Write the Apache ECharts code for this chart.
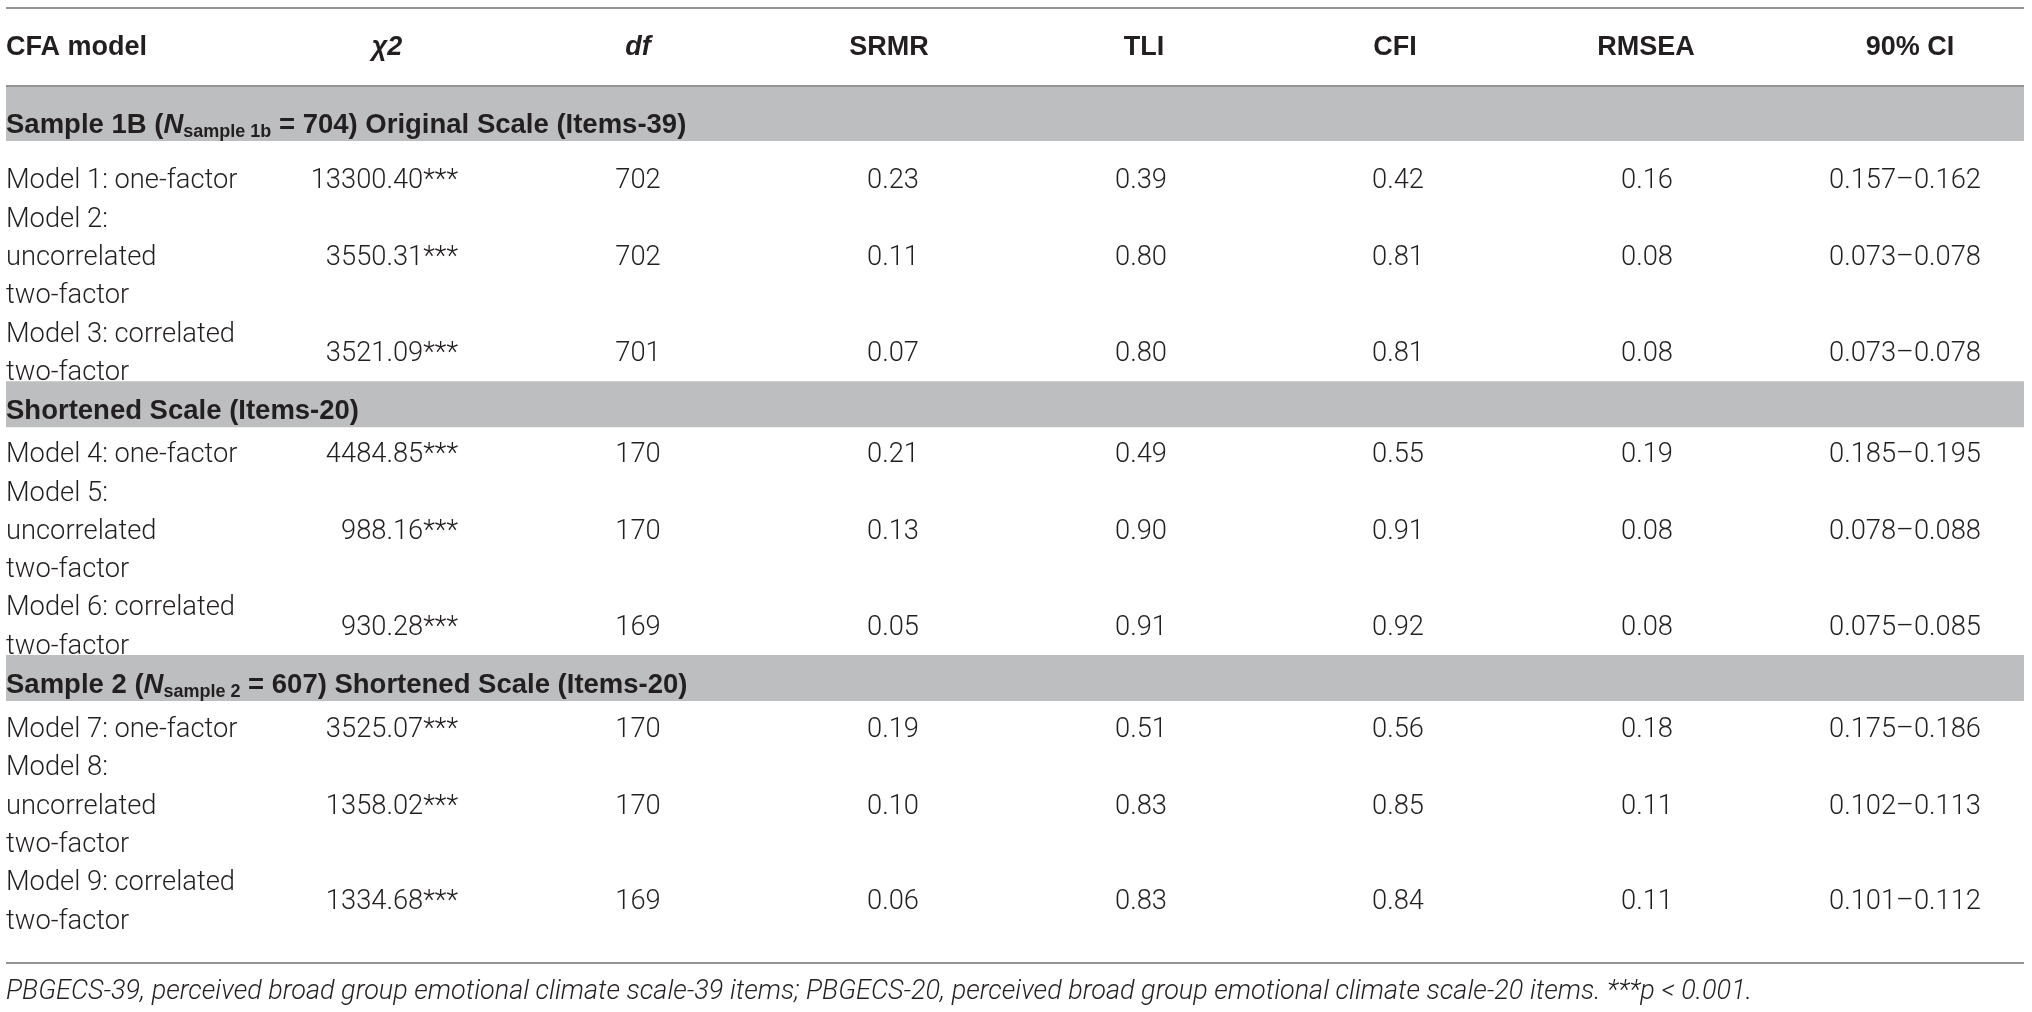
<!DOCTYPE html>
<html><head><meta charset="utf-8">
<script src="https://cdn.jsdelivr.net/npm/echarts@6/dist/echarts.min.js"></script>
<style>html,body{margin:0;padding:0;background:#fff}#c{width:2032px;height:1012px}</style>
</head><body><div id="c"></div>
<script>
// ---------------- DATA ----------------
const columns = ['CFA model', 'χ2', 'df', 'SRMR', 'TLI', 'CFI', 'RMSEA', '90% CI'];
const headerItalic = [false, true, true, false, false, false, false, false];
const sectionTitles = [
  { pre: 'Sample 1B (', n: 'N', sub: 'sample 1b', post: ' = 704) Original Scale (Items-39)' },
  { pre: 'Shortened Scale (Items-20)' },
  { pre: 'Sample 2 (', n: 'N', sub: 'sample 2', post: ' = 607) Shortened Scale (Items-20)' }
];
const models = [
  'Model 1: one-factor',
  'Model 2:\nuncorrelated\ntwo-factor',
  'Model 3: correlated\ntwo-factor',
  'Model 4: one-factor',
  'Model 5:\nuncorrelated\ntwo-factor',
  'Model 6: correlated\ntwo-factor',
  'Model 7: one-factor',
  'Model 8:\nuncorrelated\ntwo-factor',
  'Model 9: correlated\ntwo-factor'
];
const sectionOfModel = [0, 0, 0, 1, 1, 1, 2, 2, 2];
const chi2 = [13300.40, 3550.31, 3521.09, 4484.85, 988.16, 930.28, 3525.07, 1358.02, 1334.68];
const chi2Sig = ['***', '***', '***', '***', '***', '***', '***', '***', '***'];
const dfVals = [702, 702, 701, 170, 170, 169, 170, 170, 169];
const srmr = [0.23, 0.11, 0.07, 0.21, 0.13, 0.05, 0.19, 0.10, 0.06];
const tli = [0.39, 0.80, 0.80, 0.49, 0.90, 0.91, 0.51, 0.83, 0.83];
const cfi = [0.42, 0.81, 0.81, 0.55, 0.91, 0.92, 0.56, 0.85, 0.84];
const rmsea = [0.16, 0.08, 0.08, 0.19, 0.08, 0.08, 0.18, 0.11, 0.11];
const ciLow = [0.157, 0.073, 0.073, 0.185, 0.078, 0.075, 0.175, 0.102, 0.101];
const ciHigh = [0.162, 0.078, 0.078, 0.195, 0.088, 0.085, 0.186, 0.113, 0.112];
const footnote = 'PBGECS-39, perceived broad group emotional climate scale-39 items; PBGECS-20, perceived broad group emotional climate scale-20 items. ***p < 0.001.';

// ---------------- LAYOUT ----------------
const W = 2032, H = 1012;
const FONT = 'Roboto, "Liberation Sans", Arial, sans-serif';
const BFONT = '"Liberation Sans", Arial, Helvetica, sans-serif';
const TXT = '#231f20';
const BAND = '#bcbec0';
const RULE = '#949494';
const FS = 27.3, BFS = 27;
const L = {
  left: 6, right: 2024,
  topRule: 8, headerY: 48, firstBandTop: 86,
  bandH: [55, 46, 46], bandGap: [21.5, 9, 10], bandTextOff: 16,
  pitch: 38.3, overlap: 11, bottomRuleGap: 22, footGap: 29
};
const colX = [6, 458, 638, 893, 1141, 1398, 1647, 1905];
const dataAlign = ['left', 'right', 'center', 'center', 'center', 'center', 'center', 'center'];
const headerX = [6, 387, 638, 889, 1144, 1395, 1646, 1910];
const headerAlign = ['left', 'center', 'center', 'center', 'center', 'center', 'center', 'center'];

// compute vertical layout
const bands = [];
const rowCenter = [];
let y = L.firstBandTop;
for (let s = 0; s < sectionTitles.length; s++) {
  const top = y, bottom = top + L.bandH[s];
  bands.push({ top, bottom, textY: bottom - L.bandTextOff });
  y = bottom + L.bandGap[s];
  models.forEach((m, i) => {
    if (sectionOfModel[i] !== s) return;
    const n = m.split('\n').length;
    rowCenter[i] = y + n * L.pitch / 2;
    y += n * L.pitch;
  });
  if (s < sectionTitles.length - 1) y -= L.overlap;
}
const bottomRule = y + L.bottomRuleGap;
const footY = bottomRule + L.footGap;
const rules = [
  { y: L.topRule, w: 2 },
  { y: L.firstBandTop, w: 2 },
  { y: bottomRule, w: 2 }
];

// build cells
const cells = [];
columns.forEach((c, j) => cells.push({
  x: headerX[j], y: L.headerY, align: headerAlign[j], text: c,
  weight: 'bold', italic: headerItalic[j], font: BFONT, size: BFS
}));
sectionTitles.forEach((t, s) => {
  let text = '{b|' + t.pre + '}';
  if (t.n) text += '{bi|' + t.n + '}{s|' + t.sub + '}{b|' + t.post + '}';
  cells.push({ x: L.left, y: bands[s].textY, align: 'left', text, rich: true });
});
models.forEach((m, i) => {
  const vals = [
    m,
    chi2[i].toFixed(2) + chi2Sig[i],
    String(dfVals[i]),
    srmr[i].toFixed(2),
    tli[i].toFixed(2),
    cfi[i].toFixed(2),
    rmsea[i].toFixed(2),
    ciLow[i].toFixed(3) + '–' + ciHigh[i].toFixed(3)
  ];
  vals.forEach((v, j) => cells.push({ x: colX[j], y: rowCenter[i], align: dataAlign[j], text: v, weight: 300 }));
});
cells.push({ x: L.left, y: footY, align: 'left', text: footnote, italic: true, size: 27, weight: 300 });

const richStyles = {
  b: { fontFamily: BFONT, fontWeight: 'bold', fontSize: 27.5, lineHeight: 32, fill: TXT },
  bi: { fontFamily: BFONT, fontWeight: 'bold', fontStyle: 'italic', fontSize: 27.5, lineHeight: 32, fill: TXT },
  s: { fontFamily: BFONT, fontWeight: 'bold', fontSize: 18, lineHeight: 14, verticalAlign: 'bottom', fill: TXT }
};

const chart = echarts.init(document.getElementById('c'), null, { renderer: 'canvas' });
chart.setOption({
  animation: false,
  backgroundColor: '#fff',
  grid: { left: 0, right: 0, top: 0, bottom: 0 },
  xAxis: { type: 'value', min: 0, max: W, show: false },
  yAxis: { type: 'value', min: 0, max: H, inverse: true, show: false },
  series: [
    {
      type: 'custom', silent: true, z: 1,
      data: bands.map((b, i) => [i]),
      renderItem: (p, api) => {
        const b = bands[p.dataIndex];
        const a = api.coord([L.left, b.top]), c = api.coord([L.right, b.bottom]);
        return { type: 'rect', shape: { x: a[0], y: a[1], width: c[0] - a[0], height: c[1] - a[1] }, style: { fill: BAND } };
      }
    },
    {
      type: 'custom', silent: true, z: 2,
      data: rules.map((r, i) => [i]),
      renderItem: (p, api) => {
        const r = rules[p.dataIndex];
        const a = api.coord([L.left, r.y]), c = api.coord([L.right, r.y]);
        return { type: 'line', shape: { x1: a[0], y1: a[1], x2: c[0], y2: c[1] }, style: { stroke: RULE, lineWidth: r.w } };
      }
    },
    {
      type: 'custom', silent: true, z: 3,
      data: cells.map((c, i) => [i]),
      renderItem: (p, api) => {
        const c = cells[p.dataIndex];
        const pt = api.coord([c.x, c.y]);
        const style = {
          text: c.text, fill: TXT, align: c.align, verticalAlign: 'middle',
          fontFamily: c.font || FONT, fontSize: c.size || FS,
          fontWeight: c.weight || 'normal', fontStyle: c.italic ? 'italic' : 'normal',
          lineHeight: L.pitch
        };
        if (c.rich) style.rich = richStyles;
        return { type: 'text', x: pt[0], y: pt[1], style };
      }
    }
  ]
});
</script></body></html>
